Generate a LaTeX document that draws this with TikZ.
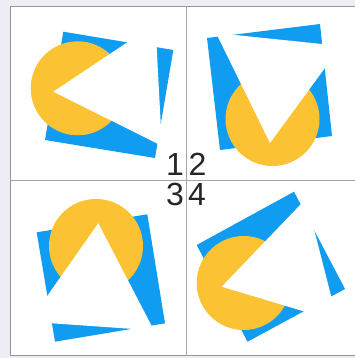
\documentclass[tikz,border=0pt]{standalone}
\usepackage{fontspec}
\setmainfont{Liberation Sans}
\definecolor{kblue}{RGB}{16,156,240}
\definecolor{kyellow}{RGB}{251,195,52}
\definecolor{kback}{RGB}{238,237,245}
\definecolor{kframe}{RGB}{150,150,150}
\definecolor{kgrid}{RGB}{165,165,165}
\tikzset{
  sq/.style={fill=kblue, draw=none},
  disc/.style={fill=kyellow, draw=none},
  cut/.style={fill=white, draw=none},
  gridline/.style={draw=kgrid, line width=1pt},
  digit/.style={font=\fontsize{32}{32}\selectfont, inner sep=0pt, anchor=base west, text=black!85}
}
\begin{document}
\begin{tikzpicture}[x=1pt,y=-1pt]
\useasboundingbox (0,0) rectangle (355,358);
\fill[kback] (0,0) rectangle (355,358);
\filldraw[fill=white, draw=kframe, line width=1.2pt] (10.3,6.3) rectangle (360,355.5);
% Quadrant 1
\fill[sq] (63.3,31.7) -- (173.3,50) -- (155,158) -- (45,140) -- cycle;
\fill[disc] (77.7,88.3) circle (47);
\fill[cut] (53.3,91.7) -- (155.4,23.6) -- (161.9,145.9) -- cycle;
% Quadrant 2
\fill[sq] (207,38) -- (320,24) -- (332,136) -- (220,150) -- cycle;
\fill[disc] (272.5,119) circle (47);
\fill[cut] (270,143) -- (216,33) -- (341,46) -- cycle;
% Quadrant 3
\fill[sq] (36.7,232.3) -- (147.3,214.3) -- (165,323.3) -- (55,341.7) -- cycle;
\fill[disc] (96,246) circle (47);
\fill[cut] (98.3,223.3) -- (29.1,321.7) -- (154,330.4) -- cycle;
% Quadrant 4
\fill[sq] (294,191.7) -- (345,289) -- (247.5,341.7) -- (196.7,245) -- cycle;
\fill[disc] (243.7,283) circle (47);
\fill[cut] (221.7,286.7) -- (306.2,198.6) -- (337.6,321.5) -- cycle;
% grid
\coordinate (vt) at (186.7,6.3);
\coordinate (vb) at (186.7,355.5);
\coordinate (hl) at (10.3,180.6);
\coordinate (hr) at (355,180.6);
\draw[gridline] (vt) -- (vb);
\draw[gridline] (hl) -- (hr);
% labels
\node[digit] (n1) at (166,175) {1};
\node[digit] (n2) at (188.5,175) {2};
\node[digit] (n3) at (166,205.5) {3};
\node[digit] (n4) at (188,205.5) {4};
\end{tikzpicture}
\end{document}
